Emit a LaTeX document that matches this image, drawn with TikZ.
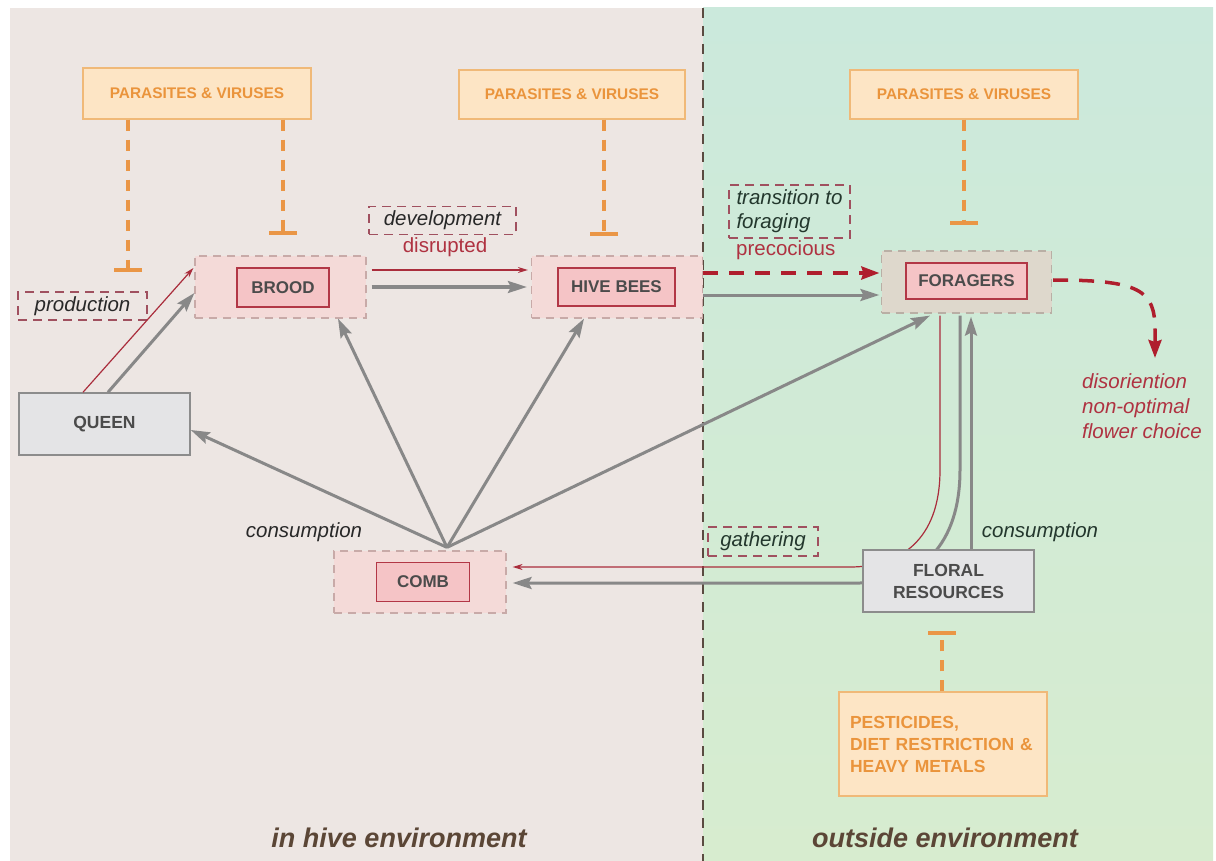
\documentclass[tikz,border=0pt]{standalone}
\usepackage{fontspec}
\setmainfont{Liberation Sans}
\usetikzlibrary{arrows.meta}
\definecolor{leftbg}{RGB}{237,230,227}
\definecolor{righttop}{RGB}{203,233,220}
\definecolor{rightbot}{RGB}{215,236,207}
\definecolor{divc}{RGB}{90,75,65}
\definecolor{outerfill}{RGB}{244,218,216}
\definecolor{outerdraw}{RGB}{200,170,168}
\definecolor{forfill}{RGB}{222,216,204}
\definecolor{fordraw}{RGB}{185,175,165}
\definecolor{innerfill}{RGB}{245,196,198}
\definecolor{innerdraw}{RGB}{178,55,70}
\definecolor{greyfill}{RGB}{228,228,230}
\definecolor{greydraw}{RGB}{140,140,140}
\definecolor{threatfill}{RGB}{253,229,197}
\definecolor{threatdraw}{RGB}{240,185,120}
\definecolor{threattext}{RGB}{234,148,60}
\definecolor{inhibc}{RGB}{234,150,70}
\definecolor{flowc}{RGB}{136,136,136}
\definecolor{redc}{RGB}{170,45,60}
\definecolor{dredc}{RGB}{175,30,45}
\definecolor{lbldraw}{RGB}{160,80,95}
\definecolor{lbltext}{RGB}{40,40,40}
\definecolor{lbltextg}{RGB}{35,55,45}
\definecolor{redtxt}{RGB}{175,50,65}
\definecolor{nodetext}{RGB}{75,75,75}
\definecolor{envc}{RGB}{91,70,54}
\begin{document}
\begin{tikzpicture}[x=1pt,y=-1pt,
  outerbox/.style={draw=outerdraw, dash pattern=on 8pt off 6pt, line width=1.2pt, fill=outerfill, minimum width=171pt, minimum height=62pt, inner sep=0pt},
  innerbox/.style={draw=innerdraw, line width=1.4pt, fill=innerfill, font=\bfseries\fontsize{17}{20}\selectfont, text=nodetext, inner sep=0pt},
  greybox/.style={draw=greydraw, line width=1.5pt, fill=greyfill, minimum width=171pt, minimum height=62pt, inner sep=0pt, align=center, font=\bfseries\fontsize{17.5}{22}\selectfont, text=nodetext},
  threat/.style={draw=threatdraw, line width=1.2pt, fill=threatfill, inner sep=0pt, font=\bfseries\fontsize{15.4}{18}\selectfont, text=threattext},
  lbl/.style={draw=lbldraw, dash pattern=on 9pt off 6pt, line width=1.3pt, inner sep=0pt, font=\itshape\fontsize{20.5}{24}\selectfont, text=lbltext},
  redtext/.style={font=\fontsize{20.5}{25}\selectfont, text=redtxt, inner sep=0pt},
  inhib/.style={draw=inhibc, line width=4pt, dash pattern=on 11pt off 9pt, -{Bar[width=28pt]}},
  flow/.style={draw=flowc, line width=3pt, -{Stealth[length=19pt,width=12pt,inset=3pt]}},
  thinred/.style={draw=redc, line width=1.2pt, -{Stealth[length=10pt,width=6pt]}},
  dashred/.style={draw=dredc, line width=3.5pt, dash pattern=on 15pt off 11pt, -{Stealth[length=18pt,width=13pt,inset=2pt]}},
  envlabel/.style={font=\bfseries\itshape\fontsize{27}{30}\selectfont, text=envc}
]
% background
\useasboundingbox (0,0) rectangle (1216,861);
\fill[white] (0,0) rectangle (1216,861);
\fill[leftbg] (10,8) rectangle (703,861);
\shade[top color=righttop, bottom color=rightbot] (703,8) rectangle (1213,861);
\draw[divc, line width=2pt, dash pattern=on 10pt off 8pt] (703,8) -- (703,861);

% threat boxes
\node[threat, minimum width=228pt, minimum height=51pt] (p1) at (197,93.5) {PARASITES \& VIRUSES};
\node[threat, minimum width=226pt, minimum height=49pt] (p2) at (572,94.5) {PARASITES \& VIRUSES};
\node[threat, minimum width=228pt, minimum height=49pt] (p3) at (964,94.5) {PARASITES \& VIRUSES};

% main nodes
\node[outerbox] (broodo) at (280.5,287) {};
\node[innerbox, minimum width=92pt, minimum height=39pt] (brood) at (283,287.5) {BROOD};
\node[outerbox] (hiveo) at (617,287) {};
\node[innerbox, minimum width=117pt, minimum height=38pt] (hive) at (616.5,287) {HIVE BEES};
\node[outerbox, fill=forfill, draw=fordraw, minimum width=170pt] (foro) at (966.5,282) {};
\node[innerbox, minimum width=121pt, minimum height=36pt] (forg) at (966.5,281) {FORAGERS};
\node[greybox] (queen) at (104.5,424) {QUEEN};
\node[outerbox, minimum width=172pt] (combo) at (420,582) {};
\node[innerbox, minimum width=93pt, minimum height=39pt] (comb) at (423,582) {COMB};

% labels
\node[lbl, minimum width=129pt, minimum height=28pt] (prod) at (82.5,306) {production};
\node[lbl, minimum width=147pt, minimum height=28pt] (dev) at (442.5,220.5) {development};
\node[redtext] (disr) at (445,247) {disrupted};
\node[lbl, text=lbltextg, minimum width=121pt, minimum height=53pt, inner xsep=6pt, align=left] (trans) at (789.5,211.5) {transition to\\foraging};
\node[redtext, anchor=west] (prec) at (736,250) {precocious};
\node[lbl, text=lbltextg, minimum width=110pt, minimum height=29pt] (gath) at (763,541.5) {gathering};
\node[font=\itshape\fontsize{20.5}{24}\selectfont, text=lbltext, inner sep=0pt] (cons1) at (304,532) {consumption};
\node[font=\itshape\fontsize{20.5}{24}\selectfont, text=lbltextg, inner sep=0pt] (cons2) at (1040,532) {consumption};
\node[redtext, font=\itshape\fontsize{20.5}{25}\selectfont, align=left, anchor=north west] (disor) at (1082,373) {disoriention\\non-optimal\\flower choice};
\node[envlabel] (env1) at (399,838) {in hive environment};
\node[envlabel] (env2) at (945,838) {outside environment};

% connectors
\draw[thinred] ([xshift=-21.5pt]queen.north) -- ([xshift=-1pt,yshift=19pt]broodo.west);
\draw[flow] ([xshift=3.5pt]queen.north) -- ([yshift=-6pt]broodo.west);
\draw[thinred] ([xshift=5pt,yshift=17pt]broodo.east) -- ([xshift=-3pt,yshift=17pt]hiveo.west);
\draw[flow] ([xshift=5pt]broodo.east) -- ([xshift=-4pt]hiveo.west);
\draw[dashred] ([yshift=14pt]hiveo.east) -- ([xshift=-1.5pt,yshift=9pt]foro.west);
\draw[flow] ([yshift=-8pt]hiveo.east) -- ([xshift=-1.5pt,yshift=-13pt]foro.west);
\draw[dashred] ([xshift=1pt,yshift=2pt]foro.east) .. controls (1140,280) and (1155,290) .. (1155,330) -- ([xshift=73pt,yshift=15pt]disor.north west);

\coordinate (ctop) at ([xshift=27pt,yshift=3pt]combo.north);
\draw[flow] (ctop) -- ([yshift=-6pt]queen.east);
\draw[flow] (ctop) -- ([xshift=57.5pt]broodo.south);
\draw[flow] (ctop) -- ([xshift=-33pt]hiveo.south);
\draw[flow] (ctop) -- ([xshift=-36.5pt,yshift=-2pt]foro.south);

\draw[thinred] ([xshift=-26.5pt,yshift=-2pt]foro.south) -- (940,470) .. controls (940,540) and (900,567) .. (850,567) -- ([xshift=6pt,yshift=15pt]combo.east);
\draw[flow] ([xshift=-6.5pt,yshift=-2pt]foro.south) -- (960,470) .. controls (960,545) and (920,583) .. (860,583) -- ([xshift=6pt,yshift=-1pt]combo.east);

\node[greybox] (floral) at (948.5,581) {FLORAL\\RESOURCES};
\draw[flow] ([xshift=22.5pt]floral.north) -- ([xshift=4.5pt,yshift=-3pt]foro.south);

\node[threat, minimum width=208pt, minimum height=104pt, text width=186pt, inner xsep=11pt, align=left, font=\bfseries\fontsize{17.5}{22}\selectfont] (pest) at (943,744) {PESTICIDES,\\DIET RESTRICTION \&\\HEAVY METALS};

% inhibitors
\coordinate (prodinh) at (128,272);
\draw[inhib] ([xshift=-69pt]p1.south) -- (prodinh);
\draw[inhib] ([xshift=86pt]p1.south) -- ([xshift=2.5pt,yshift=20pt]broodo.north);
\draw[inhib] ([xshift=32pt]p2.south) -- ([xshift=-13pt,yshift=19pt]hiveo.north);
\draw[inhib] (p3.south) -- ([xshift=-2.5pt,yshift=25pt]foro.north);
\draw[inhib] ([xshift=-1pt]pest.north) -- ([xshift=-6.5pt,yshift=-18pt]floral.south);
\end{tikzpicture}
\end{document}
